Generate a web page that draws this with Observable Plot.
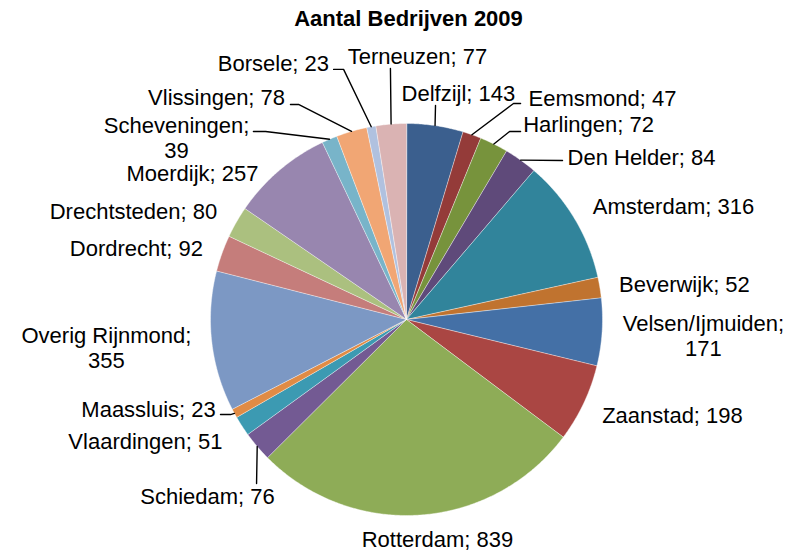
<!DOCTYPE html>
<html>
<head>
<meta charset="utf-8">
<script src="https://cdn.jsdelivr.net/npm/d3@7"></script>
<script src="https://cdn.jsdelivr.net/npm/@observablehq/plot@0.6"></script>
<style>
  html, body { margin: 0; padding: 0; background: #fff; }
  #chart { width: 798px; height: 555px; }
</style>
</head>
<body>
<div id="chart"></div>
<script>
// ---- data ----
const title = "Aantal Bedrijven 2009";
const names = ["Delfzijl", "Eemsmond", "Harlingen", "Den Helder", "Amsterdam", "Beverwijk",
  "Velsen/Ijmuiden", "Zaanstad", "Rotterdam", "Schiedam", "Vlaardingen", "Maassluis",
  "Overig Rijnmond", "Dordrecht", "Drechtsteden", "Moerdijk", "Scheveningen", "Vlissingen",
  "Borsele", "Terneuzen"];
const values = [143, 47, 72, 84, 316, 52, 171, 198, 839, 76, 51, 23, 355, 92, 80, 257, 39, 78, 23, 77];
const colors = ["#3B5F8E", "#943B39", "#77933C", "#5F4A7A", "#31849B", "#C0732F",
  "#4470A6", "#AA4643", "#8EAC57", "#735A93", "#3C9AB2", "#E08B45",
  "#7C98C4", "#C57D7B", "#ABC07F", "#9886AF", "#78B4C9", "#F1A674",
  "#B0C1DF", "#DAB3B3"];
const wrapped = ["Velsen/Ijmuiden", "Overig Rijnmond", "Scheveningen"];

// ---- label layout (in units of the pie radius, relative to the pie centre) ----
const labelU = [0.265, 1.0, 0.929, 1.199, 1.362, 1.418, 1.515, 1.357, 0.158, -1.015,
  -1.332, -1.316, -1.531, -1.378, -1.393, -1.092, -1.173, -0.969, -0.679, 0.056];
const labelV = [1.158, 1.128, 1.0, 0.827, 0.577, 0.179, -0.082, -0.485, -1.122, -0.898,
  -0.622, -0.459, -0.143, 0.367, 0.556, 0.75, 0.93, 1.133, 1.311, 1.342];
// leader lines: slice name, optional elbow, end next to the label
const leaders = [
  {name: "Delfzijl", elbow: null, end: [0.148, 1.092]},
  {name: "Eemsmond", elbow: [0.546, 1.102], end: [0.582, 1.102]},
  {name: "Harlingen", elbow: [0.526, 0.959], end: [0.582, 0.959]},
  {name: "Den Helder", elbow: null, end: [0.796, 0.811]},
  {name: "Schiedam", elbow: null, end: [-0.765, -0.837]},
  {name: "Maassluis", elbow: [-0.898, -0.485], end: [-0.949, -0.485]},
  {name: "Scheveningen", elbow: [-0.719, 0.959], end: [-0.781, 0.959]},
  {name: "Vlissingen", elbow: [-0.551, 1.097], end: [-0.592, 1.097]},
  {name: "Borsele", elbow: [-0.321, 1.276], end: [-0.372, 1.276]},
  {name: "Terneuzen", elbow: null, end: [-0.082, 1.281]}
];

// ---- geometry from data ----
const rows = names.map((name, i) => ({name, value: values[i]}));
const arcs = d3.pie().sort(null).value(d => d.value).startAngle(0).endAngle(2 * Math.PI)(rows);
const step = Math.PI / 360;
const slicePts = [];
const midAngle = new Map();
for (const a of arcs) {
  const name = a.data.name;
  midAngle.set(name, (a.startAngle + a.endAngle) / 2);
  slicePts.push({name, u: 0, v: 0});
  const n = Math.max(2, Math.ceil((a.endAngle - a.startAngle) / step));
  for (let k = 0; k <= n; k++) {
    const t = a.startAngle + (a.endAngle - a.startAngle) * k / n;
    slicePts.push({name, u: Math.sin(t), v: Math.cos(t)});
  }
}
const leaderPts = [];
for (const l of leaders) {
  const t = midAngle.get(l.name);
  leaderPts.push({name: l.name, u: Math.sin(t), v: Math.cos(t)});
  if (l.elbow) leaderPts.push({name: l.name, u: l.elbow[0], v: l.elbow[1]});
  leaderPts.push({name: l.name, u: l.end[0], v: l.end[1]});
}
const labels = names.map((name, i) => ({
  text: wrapped.includes(name) ? `${name};\n${values[i]}` : `${name}; ${values[i]}`,
  u: labelU[i], v: labelV[i]
}));

// pie centre at (406, 319) px, radius 196 px
const W = 798, H = 555, CX = 406, CY = 319, R = 196;

const chart = Plot.plot({
  width: W, height: H, margin: 0,
  style: {fontFamily: "'Liberation Sans', Arial, sans-serif", background: "#fff"},
  x: {domain: [-CX / R, (W - CX) / R], axis: null},
  y: {domain: [-(H - CY) / R, CY / R], axis: null},
  color: {domain: names, range: colors},
  marks: [
    Plot.line(slicePts, {x: "u", y: "v", z: "name", fill: "name", stroke: "#ffffff",
      strokeWidth: 0.6, strokeOpacity: 0.7, curve: "linear-closed"}),
    Plot.line(leaderPts, {x: "u", y: "v", z: "name", stroke: "#000", strokeWidth: 1.4}),
    Plot.text(labels, {x: "u", y: "v", text: "text", fontSize: 22, fill: "#000",
      textAnchor: "middle", lineAnchor: "middle", lineHeight: 1.14}),
    Plot.text([title], {frameAnchor: "top", text: d => d, dx: 9, dy: 10,
      fontSize: 22, fontWeight: "bold", fill: "#000", lineAnchor: "top"})
  ]
});
document.getElementById("chart").appendChild(chart);
</script>
</body>
</html>
